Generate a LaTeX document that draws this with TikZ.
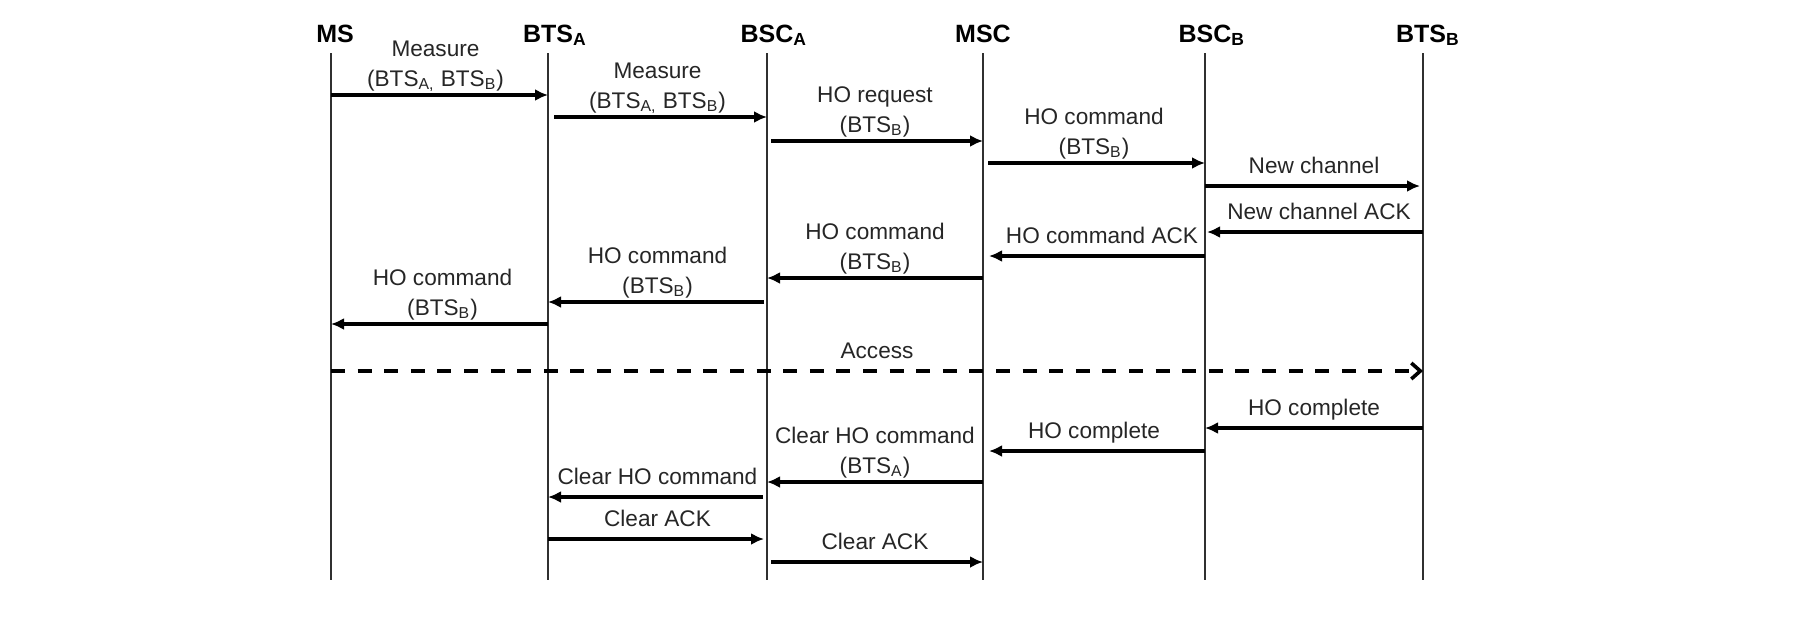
\documentclass[tikz,border=0pt]{standalone}
\usepackage{fontspec}
\setmainfont{Liberation Sans}
\usetikzlibrary{arrows.meta}
\definecolor{txt}{HTML}{262626}
\definecolor{ln}{HTML}{303030}
\begin{document}
\begin{tikzpicture}[x=0.5pt,y=-0.5pt,
  hdr/.style={font=\bfseries\fontsize{12.5}{15}\selectfont, inner sep=0pt, anchor=base},
  life/.style={line width=1pt, draw=ln},
  msg/.style={line width=1.6pt, -{Latex[length=6.5pt,width=6pt]}},
  acc/.style={line width=1.6pt, dash pattern=on 7pt off 6.3pt, -{Straight Barb[length=4.5pt,width=8pt,line width=1.8pt]}},
  lblbase/.style={font=\fontsize{11.3}{14.6}\selectfont, text=txt, align=center, inner sep=0pt, text depth=0pt, midway},
  lbl/.style={lblbase, above=5.5pt},
  lbltwo/.style={lblbase, above=3.7pt},
]
\fill[white] (0,0) rectangle (1814,616);
\useasboundingbox (0,0) rectangle (1814,616);

% headers
\node[hdr] (MS)   at (335,42)  {MS};
\node[hdr] (BTSA) at (548,42)  {BTS\rlap{\textsubscript{A}}};
\node[hdr] (BSCA) at (767,42)  {BSC\rlap{\textsubscript{A}}};
\node[hdr] (MSC)  at (983,42)  {MSC};
\node[hdr] (BSCB) at (1205,42) {BSC\rlap{\textsubscript{B}}};
\node[hdr] (BTSB) at (1421,42) {BTS\rlap{\textsubscript{B}}};

% lifelines
\coordinate (MSt) at (331,53);   \coordinate (MSb) at (331,580);
\coordinate (BTSAt) at (548,53); \coordinate (BTSAb) at (548,580);
\coordinate (BSCAt) at (767,53); \coordinate (BSCAb) at (767,580);
\coordinate (MSCt) at (983,53);  \coordinate (MSCb) at (983,580);
\coordinate (BSCBt) at (1205,53);\coordinate (BSCBb) at (1205,580);
\coordinate (BTSBt) at (1423,53);\coordinate (BTSBb) at (1423,580);
\foreach \l in {MS,BTSA,BSCA,MSC,BSCB,BTSB} \draw[life] (\l t) -- (\l b);

% messages
\draw[msg] (MSt |- 0,95) -- (BTSAt |- 0,95)
  node[lbltwo, xshift=-2pt] {Measure\\(BTS\textsubscript{A,} BTS\textsubscript{B})};
\draw[msg, shorten <=3pt] (BTSAt |- 0,117) -- (BSCAt |- 0,117)
  node[lbltwo] {Measure\\(BTS\textsubscript{A,} BTS\textsubscript{B})};
\draw[msg, shorten <=2pt] (BSCAt |- 0,141) -- (MSCt |- 0,141)
  node[lbltwo] {HO request\\(BTS\textsubscript{B})};
\draw[msg, shorten <=2.5pt] (MSCt |- 0,163) -- (BSCBt |- 0,163)
  node[lbltwo] {HO command\\(BTS\textsubscript{B})};
\draw[msg, shorten >=1.5pt] (BSCBt |- 0,186) -- (BTSBt |- 0,186)
  node[lbl] {New channel};
\draw[msg, shorten >=1pt] (BTSBt |- 0,232) -- (BSCBt |- 0,232)
  node[lbl, xshift=2.5pt] {New channel ACK};
\draw[msg, shorten >=3pt] (BSCBt |- 0,256) -- (MSCt |- 0,256)
  node[lbl, xshift=4pt] {HO command ACK};
\draw[msg] (MSCt |- 0,278) -- (BSCAt |- 0,278)
  node[lbltwo] {HO command\\(BTS\textsubscript{B})};
\draw[msg, shorten <=1.5pt] (BSCAt |- 0,302) -- (BTSAt |- 0,302)
  node[lbltwo] {HO command\\(BTS\textsubscript{B})};
\draw[msg] (BTSAt |- 0,324) -- (MSt |- 0,324)
  node[lbltwo, xshift=1.5pt] {HO command\\(BTS\textsubscript{B})};
\draw[acc] (MSt |- 0,371) -- (BTSBt |- 0,371)
  node[lbl] {Access};
\draw[msg] (BTSBt |- 0,428) -- (BSCBt |- 0,428)
  node[lbl] {HO complete};
\draw[msg, shorten >=3pt] (BSCBt |- 0,451) -- (MSCt |- 0,451)
  node[lbl] {HO complete};
\draw[msg] (MSCt |- 0,482) -- (BSCAt |- 0,482)
  node[lbltwo] {Clear HO command\\(BTS\textsubscript{A})};
\draw[msg, shorten <=2pt] (BSCAt |- 0,497) -- (BTSAt |- 0,497)
  node[lbl] {Clear HO command};
\draw[msg, shorten >=1.5pt] (BTSAt |- 0,539) -- (BSCAt |- 0,539)
  node[lbl] {Clear ACK};
\draw[msg, shorten <=2pt] (BSCAt |- 0,562) -- (MSCt |- 0,562)
  node[lbl] {Clear ACK};
\end{tikzpicture}
\end{document}
